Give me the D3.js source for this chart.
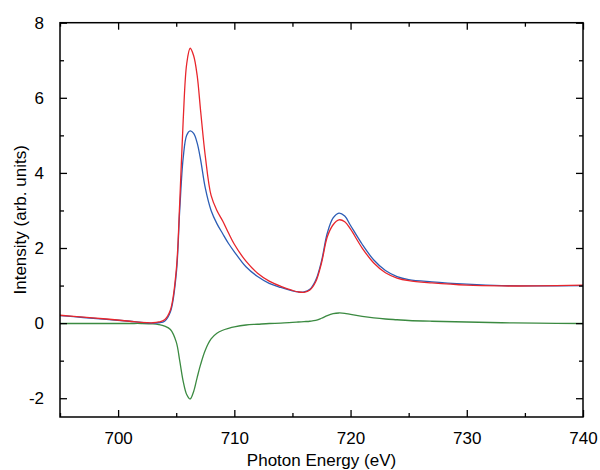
<!DOCTYPE html>
<html>
<head>
<meta charset="utf-8">
<script src="https://cdn.jsdelivr.net/npm/d3@7"></script>
<style>
  body { margin: 0; background: #fff; }
  svg { display: block; font-family: "Liberation Sans", Arial, sans-serif; }
</style>
</head>
<body>
<svg id="chart" width="600" height="470"></svg>
<script>
// photon energy grid (eV)
const energy = [695, 697, 699, 701, 702, 703, 703.5, 704, 704.5, 705, 705.3, 705.6, 705.9, 706.2, 706.5, 706.8, 707.1, 707.5, 708, 708.5, 709, 709.5, 710, 711, 712, 713, 714, 715, 715.5, 716, 716.5, 717, 717.5, 718, 718.5, 719, 719.5, 720, 721, 722, 723, 724, 725, 727, 730, 733, 736, 740];

const redSeries = [0.21, 0.16, 0.11, 0.05, 0.02, 0.01, 0.03, 0.09, 0.35, 1.4, 3.2, 5.4, 6.9, 7.32, 7.12, 6.6, 5.65, 4.45, 3.4, 3.0, 2.72, 2.4, 2.1, 1.65, 1.33, 1.12, 0.98, 0.87, 0.83, 0.82, 0.88, 1.1, 1.6, 2.3, 2.62, 2.75, 2.7, 2.5, 2.0, 1.6, 1.34, 1.2, 1.13, 1.07, 1.01, 0.99, 0.99, 1.01];

const blueSeries = [0.2, 0.15, 0.1, 0.05, 0.02, 0.0, 0.01, 0.05, 0.3, 1.3, 3.0, 4.4, 5.0, 5.12, 5.05, 4.8, 4.35, 3.6, 3.0, 2.65, 2.38, 2.12, 1.9, 1.5, 1.24, 1.06, 0.95, 0.86, 0.83, 0.83, 0.9, 1.14, 1.65, 2.4, 2.8, 2.93, 2.85, 2.6, 2.1, 1.68, 1.4, 1.24, 1.16, 1.1, 1.04, 1.0, 0.99, 1.0];

const greenSeries = [-0.01, -0.01, -0.01, -0.01, -0.01, -0.02, -0.04, -0.08, -0.17, -0.5, -1.0, -1.55, -1.9, -2.02, -1.82, -1.45, -1.1, -0.72, -0.42, -0.27, -0.19, -0.14, -0.1, -0.05, -0.03, -0.01, 0.0, 0.02, 0.03, 0.04, 0.05, 0.07, 0.13, 0.2, 0.25, 0.27, 0.26, 0.23, 0.18, 0.14, 0.11, 0.09, 0.07, 0.05, 0.03, 0.01, 0.0, -0.01];

const xTicks = [700, 710, 720, 730, 740];
const xMinor = [695, 705, 715, 725, 735];
const yTicks = [-2, 0, 2, 4, 6, 8];
const yMinor = [-1, 1, 3, 5, 7];

const svg = d3.select('#chart');
const margin = { top: 22.7, right: 17, bottom: 53, left: 60 };
const width = 600 - margin.left - margin.right;
const height = 470 - margin.top - margin.bottom;

const x = d3.scaleLinear().domain([695, 740]).range([0, width]);
const y = d3.scaleLinear().domain([-2.5, 8]).range([height, 0]);

const g = svg.append('g').attr('transform', `translate(${margin.left},${margin.top})`);

g.append('clipPath').attr('id', 'clip')
  .append('rect').attr('width', width).attr('height', height);

// Curves
const series = [
  { values: greenSeries, color: '#3b8a41' },
  { values: blueSeries, color: '#2c5db5' },
  { values: redSeries, color: '#e8262c' }
];

const line = d3.line()
  .x((d, i) => x(energy[i]))
  .y(d => y(d))
  .curve(d3.curveCatmullRom.alpha(0.5));

series.forEach(s => {
  g.append('path')
    .datum(s.values)
    .attr('clip-path', 'url(#clip)')
    .attr('fill', 'none')
    .attr('stroke', s.color)
    .attr('stroke-width', 1.3)
    .attr('d', line);
});

// plain hyphen for negatives, like the original
const fmt = d => String(d);

// Axes with inward ticks on all four sides
function styleAxis(sel) {
  sel.select('.domain').remove();
  sel.selectAll('line').attr('stroke', '#000').attr('stroke-width', 1.3);
  sel.selectAll('text').attr('fill', '#000').attr('font-size', '17px');
}

g.append('g').attr('transform', `translate(0,${height})`)
  .call(d3.axisBottom(x).tickValues(xTicks).tickSize(-7).tickPadding(15).tickFormat(fmt))
  .call(styleAxis);
g.append('g').attr('transform', `translate(0,${height})`)
  .call(d3.axisBottom(x).tickValues(xMinor).tickSize(-4).tickFormat(''))
  .call(styleAxis);
g.append('g')
  .call(d3.axisTop(x).tickValues(xTicks).tickSize(-7).tickFormat(''))
  .call(styleAxis);
g.append('g')
  .call(d3.axisTop(x).tickValues(xMinor).tickSize(-4).tickFormat(''))
  .call(styleAxis);

g.append('g')
  .call(d3.axisLeft(y).tickValues(yTicks).tickSize(-7).tickPadding(16).tickFormat(fmt))
  .call(styleAxis);
g.append('g')
  .call(d3.axisLeft(y).tickValues(yMinor).tickSize(-4).tickFormat(''))
  .call(styleAxis);
g.append('g').attr('transform', `translate(${width},0)`)
  .call(d3.axisRight(y).tickValues(yTicks).tickSize(-7).tickFormat(''))
  .call(styleAxis);
g.append('g').attr('transform', `translate(${width},0)`)
  .call(d3.axisRight(y).tickValues(yMinor).tickSize(-4).tickFormat(''))
  .call(styleAxis);

// Frame
g.append('rect')
  .attr('width', width).attr('height', height)
  .attr('fill', 'none').attr('stroke', '#000').attr('stroke-width', 1.5);

// Axis titles
svg.append('text')
  .attr('x', margin.left + width / 2).attr('y', 466)
  .attr('text-anchor', 'middle').attr('font-size', '17px')
  .text('Photon Energy (eV)');

svg.append('text')
  .attr('transform', `translate(26,${margin.top + height / 2}) rotate(-90)`)
  .attr('text-anchor', 'middle').attr('font-size', '17px')
  .text('Intensity (arb. units)');
</script>
</body>
</html>
